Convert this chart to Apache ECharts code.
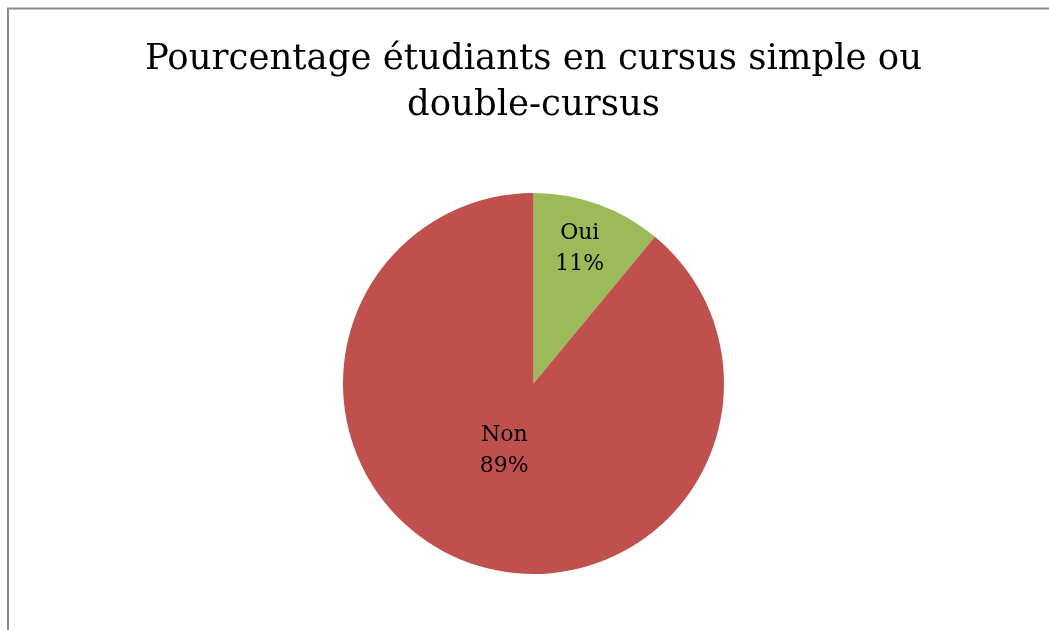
<!DOCTYPE html>
<html>
<head>
<meta charset="utf-8">
<script src="https://cdn.jsdelivr.net/npm/echarts@6/dist/echarts.min.js"></script>
<style>
  html, body { margin: 0; padding: 0; background: #fff; overflow: hidden; }
  #main { width: 1049px; height: 630px; }
</style>
</head>
<body>
<div id="main"></div>
<script>
// données
var categories = ['Oui', 'Non'];
var values = [11, 89];
var colors = ['#9BBB59', '#C0504D'];
var labelOffsets = [[13, -42], [4, -25]];

var chart = echarts.init(document.getElementById('main'), null, { renderer: 'canvas' });

var pieData = categories.map(function (name, i) {
    return {
        name: name,
        value: values[i],
        itemStyle: { color: colors[i] },
        label: { offset: labelOffsets[i] }
    };
});

chart.setOption({
    backgroundColor: '#fff',
    animation: false,
    title: {
        text: 'Pourcentage étudiants en cursus simple ou\ndouble-cursus',
        left: 533.5,
        textAlign: 'center',
        top: 37,
        padding: 0,
        textStyle: {
            fontFamily: 'DejaVu Serif',
            fontWeight: 'normal',
            fontSize: 35.5,
            lineHeight: 46,
            color: '#000'
        }
    },
    graphic: [{
        type: 'rect',
        shape: { x: 8, y: 8.5, width: 1200, height: 800 },
        style: { fill: 'none', stroke: '#8c8c8c', lineWidth: 2 },
        silent: true
    }],
    series: [{
        type: 'pie',
        center: [533.5, 383.5],
        radius: [0, 190.5],
        startAngle: 90,
        clockwise: true,
        data: pieData,
        itemStyle: { borderWidth: 0 },
        label: {
            show: true,
            position: 'inside',
            formatter: function (p) { return p.name + '\n' + p.value + '%'; },
            fontFamily: 'DejaVu Serif',
            fontSize: 22,
            lineHeight: 31,
            color: '#000'
        },
        labelLine: { show: false },
        emphasis: { disabled: true }
    }]
});
</script>
</body>
</html>
